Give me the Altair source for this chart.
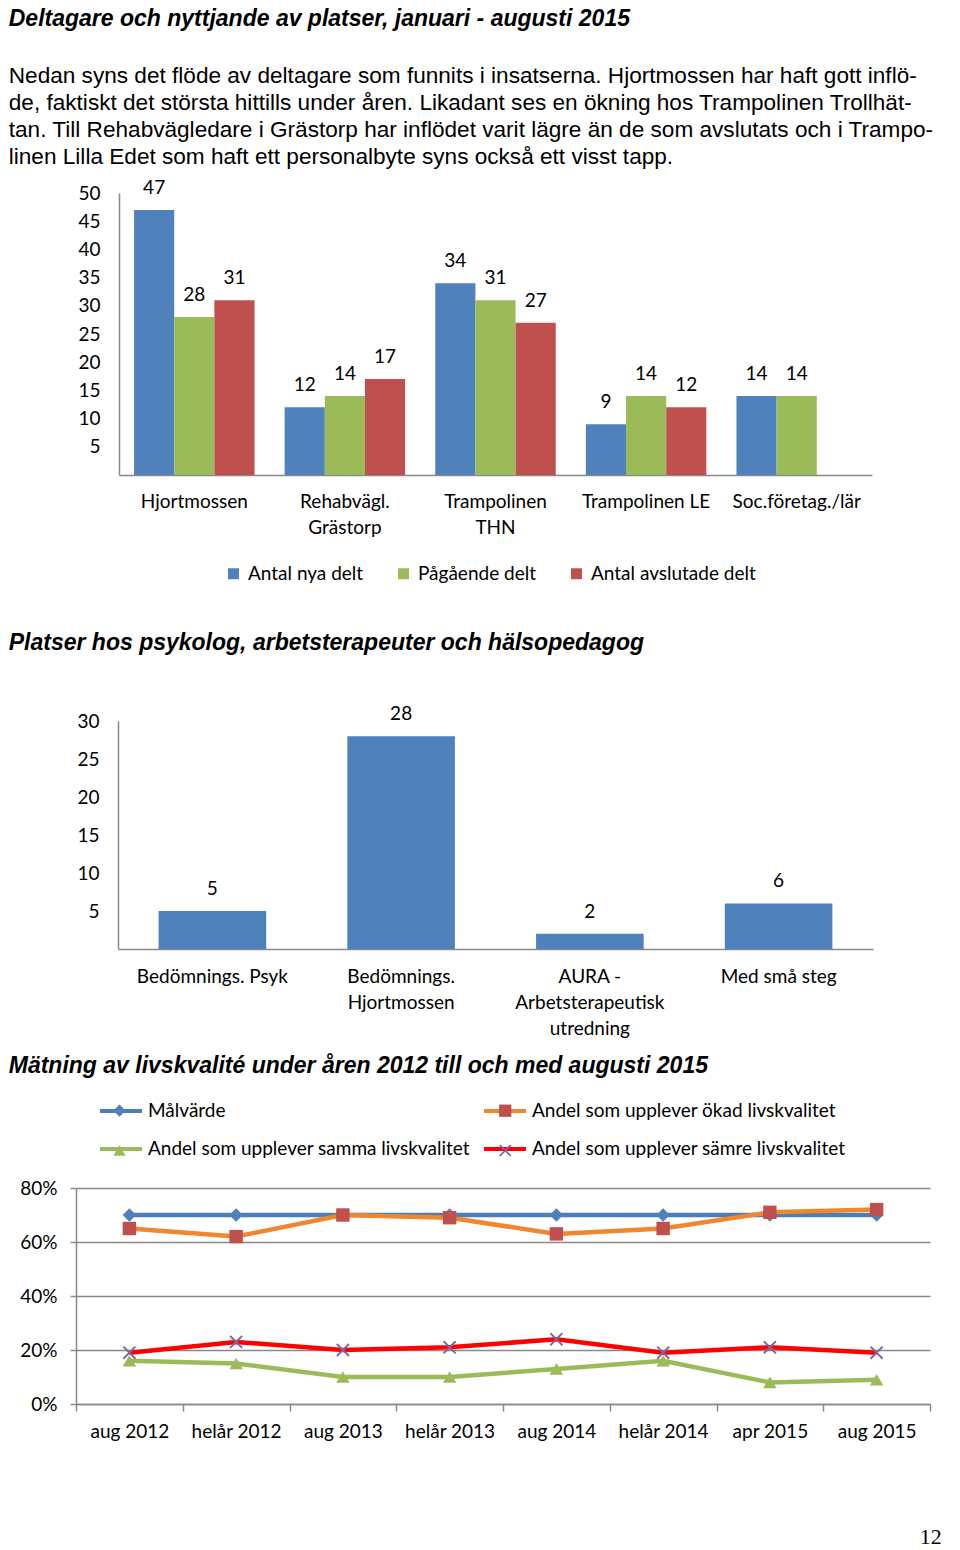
import altair as alt
import pandas as pd

FONT = "Lato"
HFONT = "Liberation Sans"
GRAY = "#898989"

# ---------------- texts ----------------
heading1 = "Deltagare och nyttjande av platser, januari - augusti 2015"
paragraph_lines = [
    "Nedan syns det flöde av deltagare som funnits i insatserna. Hjortmossen har haft gott inflö-",
    "de, faktiskt det största hittills under åren. Likadant ses en ökning hos Trampolinen Trollhät-",
    "tan. Till Rehabvägledare i Grästorp har inflödet varit lägre än de som avslutats och i Trampo-",
    "linen Lilla Edet som haft ett personalbyte syns också ett visst tapp.",
]
heading2 = "Platser hos psykolog, arbetsterapeuter och hälsopedagog"
heading3 = "Mätning av livskvalité under åren 2012 till och med augusti 2015"
page_number = "12"

# ---------------- chart 1 data ----------------
units = ["Hjortmossen", "Rehabvägl.|Grästorp", "Trampolinen|THN", "Trampolinen LE", "Soc.företag./lär"]
series1 = ["Antal nya delt", "Pågående delt", "Antal avslutade delt"]
colors1 = ["#4F81BD", "#9BBB59", "#C0504D"]
nya = [47, 12, 34, 9, 14]
pagaende = [28, 14, 31, 14, 14]
avslutade = [31, 17, 27, 12, None]
ticks1 = [5, 10, 15, 20, 25, 30, 35, 40, 45, 50]

# ---------------- chart 2 data ----------------
places = ["Bedömnings. Psyk", "Bedömnings.|Hjortmossen", "AURA -|Arbetsterapeutisk|utredning", "Med små steg"]
place_values = [5, 28, 2, 6]
ticks2 = [5, 10, 15, 20, 25, 30]

# ---------------- chart 3 data ----------------
periods = ["aug 2012", "helår 2012", "aug 2013", "helår 2013", "aug 2014", "helår 2014", "apr 2015", "aug 2015"]
series3 = [
    "Målvärde",
    "Andel som upplever ökad livskvalitet",
    "Andel som upplever samma livskvalitet",
    "Andel som upplever sämre livskvalitet",
]
malvarde = [70, 70, 70, 70, 70, 70, 70, 70]
okad = [65, 62, 70, 69, 63, 65, 71, 72]
samma = [16, 15, 10, 10, 13, 16, 8, 9]
samre = [19, 23, 20, 21, 24, 19, 21, 19]
line_colors = ["#4A7EBB", "#F0862E", "#9BBB59", "#FF0000"]
marker_colors = ["#4F81BD", "#C0504D", "#9BBB59", "#8064A2"]
X_PATH = "M-1,-0.8L-0.8,-1L0,-0.2L0.8,-1L1,-0.8L0.2,0L1,0.8L0.8,1L0,0.2L-0.8,1L-1,0.8L-0.2,0Z"
marker_shapes = ["diamond", "square", "triangle-up", X_PATH]
ticks3 = [0, 20, 40, 60, 80]

LBL = dict(labelFont=FONT, labelFontSize=19, labelColor="black")
HEAD = dict(anchor="start", font=HFONT, fontSize=23, fontStyle="italic", fontWeight="bold", color="black")


def spacer():
    # invisible 1px cell so that the chart beside it is placed by its own left edge
    return alt.Chart(pd.DataFrame({"a": [0]})).mark_point(opacity=0).encode(
        x=alt.X("a:Q", axis=None), y=alt.Y("a:Q", axis=None)
    ).properties(width=1, height=1)


# ================= chart 1 =================
rows1 = []
for s, vals in zip(series1, [nya, pagaende, avslutade]):
    for u, v in zip(units, vals):
        if v is not None:
            rows1.append({"unit": u, "series": s, "value": v})
df1 = pd.DataFrame(rows1)

base1 = alt.Chart(df1).encode(
    x=alt.X(
        "unit:N", sort=units, title=None,
        scale=alt.Scale(paddingInner=0.2, paddingOuter=0.1),
        axis=alt.Axis(labelAngle=0, labelExpr="split(datum.label, '|')", ticks=False,
                      labelPadding=17, labelLineHeight=26, domainColor=GRAY, domainWidth=1.5, **LBL),
    ),
    xOffset=alt.XOffset("series:N", sort=series1,
                        scale=alt.Scale(domain=series1, paddingInner=0, paddingOuter=0)),
    y=alt.Y(
        "value:Q", title=None, scale=alt.Scale(domain=[0, 50], nice=False),
        axis=alt.Axis(values=ticks1, ticks=False, labelPadding=19, grid=False,
                      domainColor=GRAY, domainWidth=1.5, minExtent=104, maxExtent=104, **LBL),
    ),
)
bars1 = base1.mark_bar().encode(
    color=alt.Color(
        "series:N", sort=series1, scale=alt.Scale(domain=series1, range=colors1),
        legend=alt.Legend(title=None, orient="none", legendX=213, legendY=371, direction="horizontal",
                          symbolType="square", symbolSize=120, symbolStrokeWidth=0,
                          labelFont=FONT, labelFontSize=19, labelOffset=5, labelColor="black",
                          columnPadding=30, padding=0, labelLimit=400),
    )
)
text1 = base1.mark_text(baseline="bottom", dy=-12, font=FONT, fontSize=19, color="black").encode(
    text="value:Q"
)
chart1 = (bars1 + text1).properties(width=753, height=282)
block1 = alt.hconcat(spacer(), chart1, spacing=0).properties(
    title=alt.TitleParams(
        heading1, subtitle=paragraph_lines, subtitleFont=HFONT, subtitleFontSize=22.6,
        subtitleLineHeight=27, subtitleColor="black", subtitlePadding=34, offset=10, **HEAD,
    )
)

# ================= chart 2 =================
df2 = pd.DataFrame({"place": places, "value": place_values})
base2 = alt.Chart(df2).encode(
    x=alt.X(
        "place:N", sort=places, title=None,
        scale=alt.Scale(paddingInner=0.43, paddingOuter=0.215),
        axis=alt.Axis(labelAngle=0, labelExpr="split(datum.label, '|')", ticks=False,
                      labelPadding=18, labelLineHeight=26, domainColor=GRAY, domainWidth=1.5, **LBL),
    ),
    y=alt.Y(
        "value:Q", title=None, scale=alt.Scale(domain=[0, 30], nice=False),
        axis=alt.Axis(values=ticks2, ticks=False, labelPadding=19, grid=False,
                      domainColor=GRAY, domainWidth=1.5, minExtent=103, maxExtent=103, **LBL),
    ),
)
bars2 = base2.mark_bar(color="#4F81BD")
text2 = base2.mark_text(baseline="bottom", dy=-12, font=FONT, fontSize=19, color="black").encode(
    text="value:Q"
)
chart2 = (bars2 + text2).properties(width=755, height=228)
block2 = alt.hconcat(spacer(), chart2, spacing=0).properties(
    title=alt.TitleParams(heading2, offset=50, **HEAD)
)

# ================= chart 3 =================
rows3 = []
for s, vals in zip(series3, [malvarde, okad, samma, samre]):
    for p, v in zip(periods, vals):
        rows3.append({"period": p, "series": s, "value": v})
df3 = pd.DataFrame(rows3)

base3 = alt.Chart(df3).encode(
    x=alt.X(
        "period:N", sort=periods, title=None, bandPosition=0.5,
        scale=alt.Scale(type="band", paddingInner=0, paddingOuter=0),
        axis=alt.Axis(labelAngle=0, tickBand="extent", ticks=True, tickSize=7, tickColor=GRAY,
                      tickWidth=1.5, labelPadding=11, domainColor=GRAY, domainWidth=1.5, **LBL),
    ),
    y=alt.Y(
        "value:Q", title=None, scale=alt.Scale(domain=[0, 80], nice=False),
        axis=alt.Axis(values=ticks3, labelExpr="datum.value + '%'", ticks=True, tickSize=6,
                      tickColor=GRAY, tickWidth=1.5, labelPadding=13, grid=True, gridColor=GRAY,
                      gridWidth=1.5, domainColor=GRAY, domainWidth=1.5, minExtent=61, maxExtent=61,
                      **LBL),
    ),
)
lines3 = base3.mark_line(strokeWidth=4.5).encode(
    color=alt.Color(
        "series:N", sort=series3, scale=alt.Scale(domain=series3, range=line_colors),
        legend=alt.Legend(title=None, orient="none", legendX=22, legendY=-100, columns=2,
                          direction="horizontal",
                          symbolType="stroke", symbolSize=1764, symbolStrokeWidth=4,
                          labelFont=FONT, labelFontSize=19, labelOffset=4, labelColor="black",
                          rowPadding=5, columnPadding=6, padding=0, labelLimit=500),
    )
)
# marker overlay for the legend: symbols only, placed on top of the line symbols
pt_legend = alt.Legend(title=None, orient="none", legendX=37, legendY=-84, columns=2,
                       direction="horizontal", symbolSize=150, symbolStrokeWidth=0,
                       labelExpr="''", labelFontSize=1, labelOffset=0,
                       rowPadding=27, columnPadding=372.75, padding=0)
points3 = base3.mark_point(filled=True, size=180, opacity=1).encode(
    color=alt.Color("series:N", sort=series3,
                    scale=alt.Scale(domain=series3, range=marker_colors), legend=pt_legend),
    shape=alt.Shape("series:N", sort=series3,
                    scale=alt.Scale(domain=series3, range=marker_shapes), legend=pt_legend),
)
chart3 = alt.layer(lines3, points3).resolve_scale(color="independent", shape="independent").properties(
    width=854, height=216
)
block3 = alt.hconcat(spacer(), chart3, spacing=0).properties(
    title=alt.TitleParams(heading3, offset=10, **HEAD)
)

lower = alt.concat(block2, block3, columns=1, spacing=17)
chart = alt.concat(block1, lower, columns=1, spacing=95).properties(
    background="white",
    padding={"left": 0, "top": 0, "right": 0, "bottom": 0},
    title=alt.TitleParams(page_number, orient="bottom", anchor="end", font="Liberation Serif",
                          fontSize=22, fontWeight="normal", color="black", offset=86, dx=8),
).configure_view(stroke=None).configure_axis(
    labelFont=FONT, labelFontSize=19, labelColor="black",
)

chart.save("out.html", embed_options={"renderer": "svg", "actions": False})
